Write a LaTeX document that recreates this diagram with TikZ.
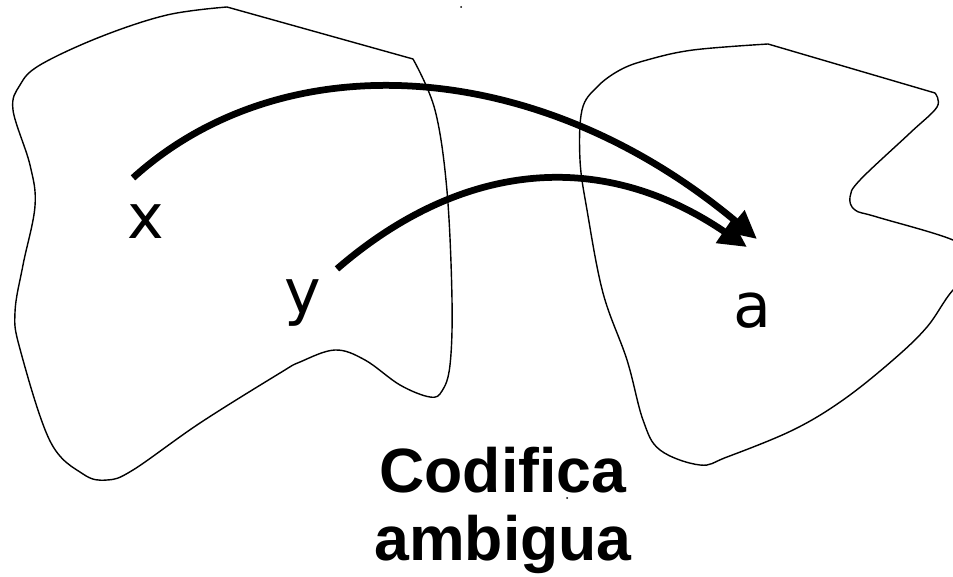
\documentclass[tikz,border=0pt]{standalone}
\usepackage{fontspec}
\setmainfont{Liberation Sans}
\newfontfamily\elemfont{DejaVu Sans}
\usetikzlibrary{arrows.meta}

\begin{document}
\begin{tikzpicture}[x=0.025cm, y=-0.025cm,
  blob/.style={draw, line width=1pt, line join=round},
  mapto/.style={line width=4.8pt, -{Triangle[length=20pt, width=19pt]}},
  elem/.style={font=\elemfont\fontsize{44}{52}\selectfont, inner sep=0pt, anchor=base},
  caption/.style={font=\bfseries\fontsize{44.5}{48}\selectfont, align=center, inner sep=0pt, anchor=base}
]
  \useasboundingbox (0,0) rectangle (953,577);
  \clip (0,0) rectangle (953,577);

  % dominio
  \draw[blob] (227,7) -- plot[smooth, tension=0.6] coordinates {
    (413,59) (435,110) (447,191) (452,300) (450,365) (442,391) (430,397)
    (400,385) (365,360) (335,350) (300,362) (280,373) (200,423) (133,470) (107,480)
    (83,474) (50,441) (20,349) (15,312) (23,265) (35,206) (30,165) (13,110)
    (20,85) (40,65) (100,37) (167,15) (227,7)};

  % codominio
  \draw[blob] (768,44) -- plot[smooth, tension=0.6] coordinates {
    (935,93) (937,107) (910,133) (860,180) (850,197) (855,210) (877,217)
    (953,240) (985,262) (953,290) (927,327) (893,360) (843,400) (793,430)
    (727,457) (700,465) (660,450) (643,420) (627,360) (603,293) (587,210)
    (580,160) (582,110) (597,87) (620,70) (647,60) (693,50) (768,44)};

  \node[elem] (x) at (146,238) {x};
  \node[elem] (y) at (303,313) {y};
  \node[elem] (a) at (752,327) {a};

  \draw[mapto] ([shift={(-13,-26)}]x.north) .. controls (283,42) and (537,55) .. ([shift={(5,-53)}]a.north);
  \draw[mapto] ([shift={(34,-10)}]y.north) .. controls (457,165) and (597,145) .. ([shift={(-5,-45)}]a.north);

  \node[caption] (cod) at (503,560) {Codifica\\ambigua};

  % restos
  \fill (461,7) circle (1);
  \fill (567,498) circle (1);
\end{tikzpicture}
\end{document}
